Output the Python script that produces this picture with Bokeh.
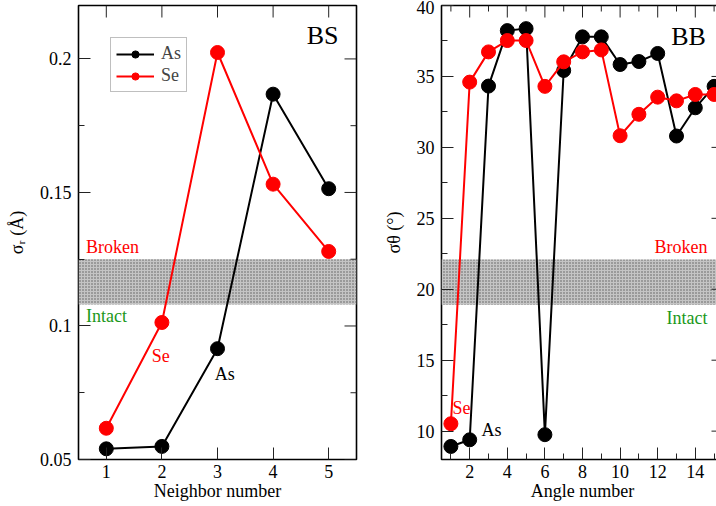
import math
from bokeh.plotting import figure
from bokeh.models import (Range1d, FixedTicker, BoxAnnotation, Legend,
                          LegendItem, ColumnDataSource)
from bokeh.layouts import row
from bokeh.core.properties import value
from bokeh.embed import file_html
from bokeh.resources import INLINE

FONT = "Liberation Serif"

# ---------------- data ----------------
neighbor = [1, 2, 3, 4, 5]
bs_as = [0.0540, 0.0549, 0.0915, 0.1868, 0.1514]
bs_se = [0.0617, 0.1013, 0.2024, 0.1531, 0.1279]
bs_band = [0.108, 0.125]

angle = list(range(1, 16))
bb_as = [8.92, 9.39, 34.32, 38.23, 38.37, 9.75, 35.42, 37.79, 37.79, 35.84,
         36.05, 36.62, 30.80, 32.79, 34.30]
bb_se = [10.52, 34.60, 36.73, 37.53, 37.53, 34.30, 36.03, 36.73, 36.87, 30.82,
         32.33, 33.54, 33.28, 33.73, 33.73]
bb_band = [18.9, 22.1]

bs_xticks = [1, 2, 3, 4, 5]
bs_yticks = [0.05, 0.1, 0.15, 0.2]
bs_yminor = [0.075, 0.125, 0.175]
bb_xticks = [2, 4, 6, 8, 10, 12, 14]
bb_xminor = [1, 3, 5, 7, 9, 11, 13, 15]
bb_yticks = [10, 15, 20, 25, 30, 35, 40]
bb_yminor = [12.5, 17.5, 22.5, 27.5, 32.5, 37.5]

RED = "#ff0000"
BLACK = "#000000"
GREEN = "#1a981a"
TICK = "#222222"

FIG_H = 506


def style_axis(ax):
    ax.major_tick_in = 12
    ax.major_tick_out = 0
    ax.minor_tick_in = 6
    ax.minor_tick_out = 0
    ax.major_tick_line_color = TICK
    ax.minor_tick_line_color = TICK
    ax.axis_line_color = None
    ax.major_label_text_font = FONT
    ax.major_label_text_font_size = "18px"
    ax.major_label_text_color = "black"
    ax.major_label_standoff = 7
    ax.axis_label_text_font = FONT
    ax.axis_label_text_font_style = "normal"
    ax.axis_label_text_font_size = "18px"
    ax.axis_label_text_color = "black"


def mirror_ticks(p, xr, yr, xt, xm, yt, ym):
    # inward tick marks on the top and right edges of the frame
    p.ray(x=xt, y=[yr[1]] * len(xt), length=12, length_units="screen",
          angle=-math.pi / 2, line_color=TICK, line_width=1)
    p.ray(x=xm, y=[yr[1]] * len(xm), length=6, length_units="screen",
          angle=-math.pi / 2, line_color=TICK, line_width=1)
    p.ray(x=[xr[1]] * len(yt), y=yt, length=12, length_units="screen",
          angle=math.pi, line_color=TICK, line_width=1)
    p.ray(x=[xr[1]] * len(ym), y=ym, length=6, length_units="screen",
          angle=math.pi, line_color=TICK, line_width=1)


def make_fig(width, xr, yr, xt, xm, yt, ym, border_left, border_right, xlabel, ylabel):
    p = figure(width=width, height=FIG_H, x_range=Range1d(*xr), y_range=Range1d(*yr),
               output_backend="svg", toolbar_location=None,
               min_border_left=border_left, min_border_right=border_right,
               min_border_top=5, min_border_bottom=47)
    p.xgrid.visible = False
    p.ygrid.visible = False
    p.outline_line_color = "black"
    p.outline_line_width = 1.6
    p.background_fill_color = "white"
    p.border_fill_color = "white"
    xa = p.below[0]
    ya = p.left[0]
    xa.ticker = FixedTicker(ticks=xt, minor_ticks=xm)
    ya.ticker = FixedTicker(ticks=yt, minor_ticks=ym)
    style_axis(xa)
    style_axis(ya)
    xa.major_label_standoff = 5
    xa.axis_label = xlabel
    ya.axis_label = ylabel
    xa.axis_label_standoff = 0
    ya.axis_label_standoff = 10
    mirror_ticks(p, xr, yr, xt, xm, yt, ym)
    return p


def add_text(p, xs, ys, texts, colors, size, align):
    src = ColumnDataSource(dict(x=xs, y=ys, t=texts, c=colors))
    p.text(x="x", y="y", text="t", text_color="c", source=src,
           text_font=value(FONT), text_font_size=size,
           text_align=align, text_baseline="middle")


def add_band(p, band):
    p.add_layout(BoxAnnotation(bottom=band[0], top=band[1], fill_color="#c4c4c4",
                               fill_alpha=1, line_color=None, hatch_pattern="dot",
                               hatch_color="#5a5a5a", hatch_scale=3, hatch_weight=1,
                               level="underlay"))


# ---------------- left panel (BS) ----------------
bs_xr, bs_yr = (0.5, 5.5), (0.05, 0.22)
p1 = make_fig(358, bs_xr, bs_yr, bs_xticks, [], bs_yticks, bs_yminor, 78, 2,
              "Neighbor number", "σᵣ (Å)")
add_band(p1, bs_band)
l_as = p1.line(neighbor, bs_as, line_color=BLACK, line_width=2)
s_as = p1.scatter(neighbor, bs_as, size=14, fill_color=BLACK, line_color=BLACK)
l_se = p1.line(neighbor, bs_se, line_color=RED, line_width=2)
s_se = p1.scatter(neighbor, bs_se, size=14, fill_color=RED, line_color=RED)
legend = Legend(items=[LegendItem(label="As", renderers=[l_as, s_as]),
                       LegendItem(label="Se", renderers=[l_se, s_se])],
                location="top_left", margin=32, padding=5, spacing=1,
                glyph_width=38, glyph_height=18, label_standoff=7,
                label_text_font=FONT, label_text_font_size="18px",
                border_line_color="#808080", border_line_width=1.5,
                background_fill_alpha=1)
p1.add_layout(legend)
add_text(p1, [0.636, 0.636], [0.1294, 0.1039], ["Broken", "Intact"], [RED, GREEN], "18px", "left")
add_text(p1, [1.98, 3.13], [0.0886, 0.0822], ["Se", "As"], [RED, BLACK], "18px", "center")
add_text(p1, [4.89], [0.2088], ["BS"], [BLACK], "26px", "center")

# ---------------- right panel (BB) ----------------
bb_xr, bb_yr = (0.5, 15.5), (8, 40)
p2 = make_fig(367, bb_xr, bb_yr, bb_xticks, bb_xminor, bb_yticks, bb_yminor, 83, 2,
              "Angle number", "σθ (°)")
add_band(p2, bb_band)
p2.line(angle, bb_as, line_color=BLACK, line_width=2)
p2.scatter(angle, bb_as, size=14, fill_color=BLACK, line_color=BLACK)
p2.line(angle, bb_se, line_color=RED, line_width=2)
p2.scatter(angle, bb_se, size=14, fill_color=RED, line_color=RED)
add_text(p2, [14.65, 14.65], [22.98, 17.99], ["Broken", "Intact"], [RED, GREEN], "18px", "right")
add_text(p2, [1.09, 2.63], [11.66, 10.11], ["Se", "As"], [RED, BLACK], "18px", "left")
add_text(p2, [13.64], [37.82], ["BB"], [BLACK], "26px", "center")

layout = row(p1, p2, width=716, height=506, styles={"overflow": "hidden"})

open("out.html", "w").write(file_html(layout, INLINE))
